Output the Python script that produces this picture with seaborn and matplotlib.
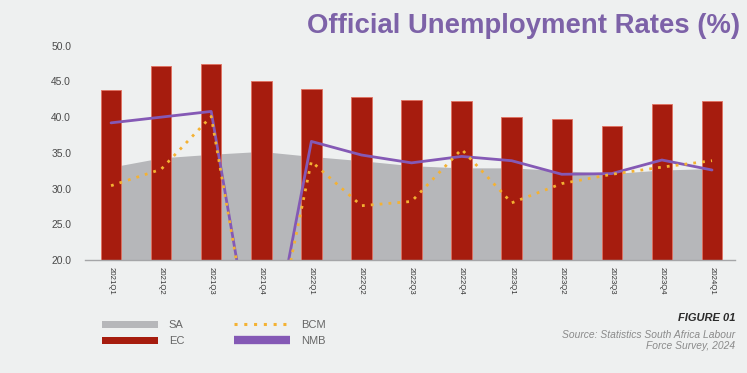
import matplotlib
matplotlib.use("Agg")
import matplotlib.pyplot as plt
import seaborn as sns
import numpy as np
import pandas as pd
from matplotlib.patches import Patch
from matplotlib.lines import Line2D

quarters = ["2021Q1", "2021Q2", "2021Q3", "2021Q4", "2022Q1", "2022Q2", "2022Q3",
            "2022Q4", "2023Q1", "2023Q2", "2023Q3", "2023Q4", "2024Q1"]
sa = [33.0, 34.3, 34.8, 35.2, 34.5, 33.9, 33.2, 32.9, 32.9, 32.5, 32.1, 32.6, 32.8]
ec = [43.8, 47.1, 47.4, 45.0, 43.9, 42.8, 42.4, 42.2, 40.0, 39.7, 38.8, 41.9, 42.3]
bcm = [30.4, 32.7, 40.1, 0.0, 33.8, 27.6, 28.2, 35.5, 28.0, 30.7, 32.0, 33.0, 33.9]
nmb = [39.2, 40.0, 40.8, 0.0, 36.6, 34.7, 33.6, 34.5, 33.9, 32.0, 32.1, 34.0, 32.6]
yticks = [20.0, 25.0, 30.0, 35.0, 40.0, 45.0, 50.0]

df = pd.DataFrame({"quarter": quarters, "SA": sa, "EC": ec, "BCM": bcm, "NMB": nmb})

BG = "#eef0f0"
C_SA = "#b6b7ba"
C_EC = "#a61c0e"
C_BCM = "#f4b233"
C_NMB = "#8459b5"
C_TITLE = "#7d62a8"

sns.set_theme(style="white")
plt.rcParams["font.family"] = ["Liberation Sans", "DejaVu Sans"]

fig = plt.figure(figsize=(7.47, 3.73), dpi=100, facecolor=BG)
ax = fig.add_axes([0.1138, 0.3029, 0.8702, 0.5746])
ax.set_facecolor(BG)

x = np.arange(len(quarters))
ax.fill_between(x, 0, df["SA"], color=C_SA, zorder=1, linewidth=0)
sns.barplot(data=df, x="quarter", y="EC", color=C_EC, width=0.41, ax=ax,
            edgecolor="#e2705f", linewidth=0.6, saturation=1, zorder=2)
sns.lineplot(x=x, y=df["NMB"].values, color=C_NMB, linewidth=2.0, ax=ax, zorder=3)
sns.lineplot(x=x, y=df["BCM"].values, color=C_BCM, linewidth=2.0, ax=ax, zorder=4,
             linestyle=(0, (1, 2.2)))

ax.set_xlim(-0.52, 12.46)
ax.set_ylim(20, 50)
ax.set_yticks(yticks)
ax.set_yticklabels([f"{v:.1f}" for v in yticks], fontsize=7.4, color="#4a4a4a")
ax.set_xticks(x)
ax.set_xticklabels(quarters, rotation=-90, fontsize=5.6, color="#333333")
ax.tick_params(axis="both", length=0, pad=10)
ax.tick_params(axis="x", pad=5)
ax.set_xlabel("")
ax.set_ylabel("")
for s in ["top", "right", "left"]:
    ax.spines[s].set_visible(False)
ax.spines["bottom"].set_color("#a5a6a8")
ax.spines["bottom"].set_linewidth(1.0)
ax.spines["bottom"].set_zorder(5)
ax.grid(False)

fig.text(0.991, 0.931, "Official Unemployment Rates (%)", ha="right", va="center",
         fontsize=19.8, fontweight="bold", color=C_TITLE)

handles = [
    Patch(facecolor=C_SA, edgecolor="none", label="SA"),
    Patch(facecolor=C_EC, edgecolor="none", label="EC"),
    Line2D([0], [0], color=C_BCM, linewidth=2.2, linestyle=(0, (1, 2.2)), label="BCM"),
    Line2D([0], [0], color=C_NMB, linewidth=6, solid_capstyle="butt", label="NMB"),
]
leg = fig.legend(handles=handles, ncol=2, loc="upper left",
                 bbox_to_anchor=(102 / 747, 1 - 320 / 373), frameon=False,
                 fontsize=8, handlelength=5.0, handleheight=0.6, handletextpad=1.0,
                 columnspacing=4.5, labelspacing=0.55, borderpad=0, borderaxespad=0)
for t in leg.get_texts():
    t.set_color("#666666")

fig.text(735 / 747, 1 - 317.7 / 373, "FIGURE 01", ha="right", va="center",
         fontsize=8, fontweight="heavy", fontstyle="italic", color="#2a2a2a")
fig.text(735 / 747, 1 - 335 / 373, "Source: Statistics South Africa Labour", ha="right",
         va="center", fontsize=7.4, fontstyle="italic", color="#8a8a8a")
fig.text(735 / 747, 1 - 345.7 / 373, "Force Survey, 2024", ha="right",
         va="center", fontsize=7.4, fontstyle="italic", color="#8a8a8a")

fig.savefig("out.png", dpi=100, facecolor=BG)
